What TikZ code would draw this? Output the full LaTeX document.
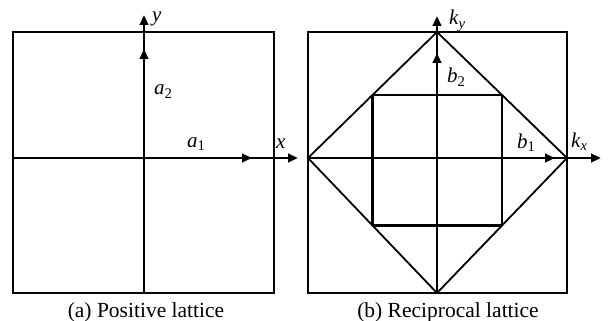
\documentclass[tikz,border=0pt]{standalone}
\usepackage{fontspec}
\setmainfont{Liberation Serif}
\usetikzlibrary{arrows.meta}
\begin{document}
\begin{tikzpicture}[x=1pt,y=-1pt,
  frame/.style={line width=2pt},
  axis/.style={line width=2.6pt},
  diam/.style={line width=1.8pt},
  tipped/.style={line width=2.6pt,-{Triangle[length=10pt,width=8.5pt]}},
  lbl/.style={inner sep=0pt, anchor=base west, font=\fontsize{21}{21}\selectfont\itshape},
  captxt/.style={inner sep=0pt, anchor=base, font=\fontsize{21.5}{21.5}\selectfont}]
\useasboundingbox (0,0) rectangle (608,321);
% ---------- (a) positive lattice ----------
\coordinate (aO) at (144,158);
\coordinate (aTL) at (13,32);
\coordinate (aBR) at (274,293);
\coordinate (aB) at (144,293);
\coordinate (aL) at (13,158);
\coordinate (aYtip) at (144,15);
\coordinate (aXtip) at (298,158);
\coordinate (aA2) at (144,49);
\coordinate (aA1) at (252,158);
\draw[frame] (aTL) rectangle (aBR);
\draw[axis] (aL) -- (aO);
\draw[tipped] (aO) -- (aXtip);
\draw[tipped] (aO) -- (aA1);
\draw[axis] (aB) -- (aO);
\draw[tipped] (aO) -- (aYtip);
\draw[tipped] (aO) -- (aA2);
\node[lbl] (ly) at (152,22) {y};
\node[lbl] (la2) at (154,95) {a\textsubscript{\upshape 2}};
\node[lbl] (la1) at (187,147) {a\textsubscript{\upshape 1}};
\node[lbl] (lx) at (276,148) {x};
\node[captxt] (capa) at (146,317) {(a) Positive lattice};
% ---------- (b) reciprocal lattice ----------
\coordinate (bO) at (437,158);
\coordinate (bTL) at (308,32);
\coordinate (bBR) at (567,293);
\coordinate (dT) at (437,32);
\coordinate (dR) at (567,158);
\coordinate (dB) at (437,293);
\coordinate (dL) at (308,158);
\coordinate (bYtip) at (437,16);
\coordinate (bXtip) at (601,158);
\coordinate (bB2) at (437,53);
\coordinate (bB1) at (555,158);
\draw[frame] (bTL) rectangle (bBR);
\draw[diam] (dT) -- (dR) -- (dB) -- (dL) -- cycle;
\path (dT) -- (dL) coordinate[pos=0.5] (iTL);
\path (dT) -- (dR) coordinate[pos=0.5] (iTR);
\path (dB) -- (dR) coordinate[pos=0.5] (iBR);
\path (dB) -- (dL) coordinate[pos=0.5] (iBL);
\draw[line width=1.6pt] (iTL) -- (iTR);
\draw[line width=2.6pt] (iTR) -- (iBR);
\draw[line width=2.2pt] (iBR) -- (iBL);
\draw[line width=2.6pt] (iBL) -- (iTL);
\draw[axis] (dL) -- (bO);
\draw[tipped] (bO) -- (bXtip);
\draw[tipped] (bO) -- (bB1);
\draw[axis] (dB) -- (bO);
\draw[tipped] (bO) -- (bYtip);
\draw[tipped] (bO) -- (bB2);
\node[lbl] (lky) at (449,25) {k\textsubscript{y}};
\node[lbl] (lb2) at (447,83) {b\textsubscript{\upshape 2}};
\node[lbl] (lb1) at (517,148) {b\textsubscript{\upshape 1}};
\node[lbl] (lkx) at (571,147) {k\textsubscript{x}};
\node[captxt] (capb) at (448,317) {(b) Reciprocal lattice};
\end{tikzpicture}
\end{document}
